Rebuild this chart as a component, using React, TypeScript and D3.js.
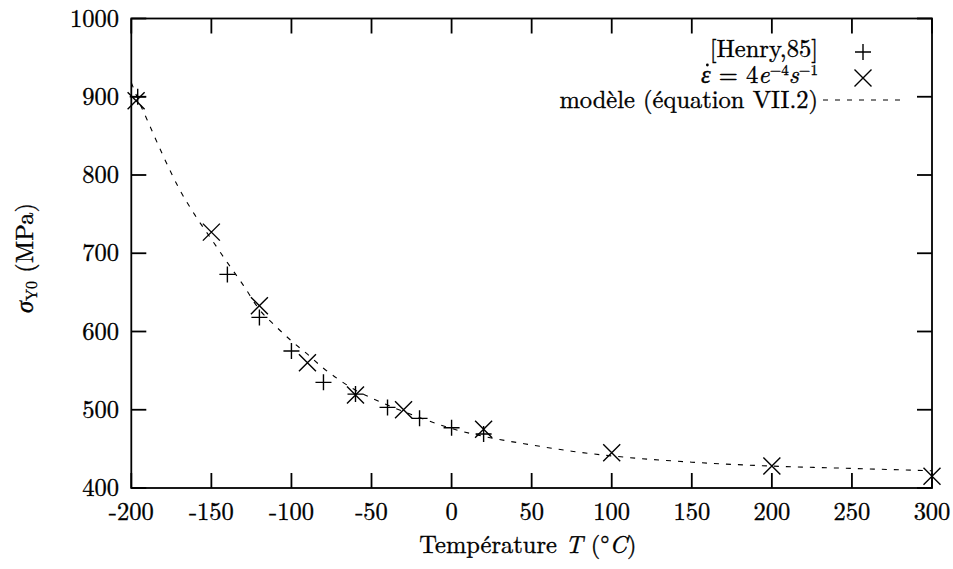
import React, { useLayoutEffect, useRef, useState } from "react";
import * as d3 from "d3";

// Henry,85 data (+)
const henryT = [-196, -140, -120, -100, -80, -60, -40, -20, 0, 20];
const henryS = [900, 673, 618, 575, 535, 520, 503, 489, 477, 469];

// strain rate 4e-4 s-1 data (x)
const rateT = [-197, -150, -120, -90, -60, -30, 20, 100, 200, 300];
const rateS = [895, 727, 633, 560, 519, 500, 475, 445, 428, 415];

// model curve (equation VII.2)
const modelT = [-200, -195, -190, -180, -170, -160, -150, -140, -130, -120, -110, -100, -90, -80, -70, -60, -50, -40, -20, 0, 20, 50, 75, 100, 150, 200, 250, 300];
const modelS = [918, 893, 870, 824, 782, 748, 718, 688, 659, 628, 607, 588, 571, 553, 538, 525, 515, 506, 490, 476, 466, 455, 447, 441, 433, 428, 425, 422];

const xTicks = [-200, -150, -100, -50, 0, 50, 100, 150, 200, 250, 300];
const yTicks = [400, 500, 600, 700, 800, 900, 1000];

const W = 953;
const H = 569;
const L = 131.3, R = 932, T = 18.5, B = 488;
const FONT = "'Latin Modern Roman', 'Liberation Serif', serif";
const FS = 24.5;
const TICK = 15;
const txt: React.CSSProperties = { fontFamily: FONT, fontSize: FS, stroke: "#000", strokeWidth: 0.35 };

export default function App() {
  const x = d3.scaleLinear().domain([-200, 300]).range([L, R]);
  const y = d3.scaleLinear().domain([400, 1000]).range([B, T]);

  const epsRef = useRef<SVGTextElement>(null);
  const [dot, setDot] = useState<[number, number] | null>(null);
  useLayoutEffect(() => {
    const el = epsRef.current;
    if (el) {
      try {
        const p = el.getStartPositionOfChar(0);
        const e = el.getEndPositionOfChar(0);
        setDot([(p.x + e.x) / 2 + 1.5, 65]);
      } catch (err) {
        setDot([686, 65]);
      }
    }
  }, []);

  const model = modelT.map((t, i) => [t, modelS[i]] as [number, number]);
  const line = d3
    .line<[number, number]>()
    .x((d) => x(d[0]))
    .y((d) => y(d[1]))
    .curve(d3.curveMonotoneX);

  const plus = (cx: number, cy: number, k: string) => (
    <path key={k} d={`M${cx - 8},${cy}H${cx + 8}M${cx},${cy - 8}V${cy + 8}`} stroke="#000" strokeWidth={1.4} fill="none" />
  );
  const cross = (cx: number, cy: number, k: string) => (
    <path key={k} d={`M${cx - 8.5},${cy - 8.5}L${cx + 8.5},${cy + 8.5}M${cx - 8.5},${cy + 8.5}L${cx + 8.5},${cy - 8.5}`} stroke="#000" strokeWidth={1.4} fill="none" />
  );

  return (
    <div style={{ position: "absolute", left: 0, top: 0 }}>
      <svg width={W} height={H} viewBox={`0 0 ${W} ${H}`} style={{ display: "block", background: "#fff" }}>
        <rect x={0} y={0} width={W} height={H} fill="#fff" />
        {/* ticks */}
        {xTicks.map((t) => (
          <g key={"xt" + t}>
            <line x1={x(t)} x2={x(t)} y1={B} y2={B - TICK} stroke="#000" strokeWidth={1.8} />
            <line x1={x(t)} x2={x(t)} y1={T} y2={T + TICK} stroke="#000" strokeWidth={1.8} />
            <text x={x(t)} y={520} textAnchor="middle" style={txt}>{t}</text>
          </g>
        ))}
        {yTicks.map((v) => (
          <g key={"yt" + v}>
            <line x1={L} x2={L + TICK} y1={y(v)} y2={y(v)} stroke="#000" strokeWidth={1.8} />
            <line x1={R} x2={R - TICK} y1={y(v)} y2={y(v)} stroke="#000" strokeWidth={1.8} />
            <text x={119} y={y(v) + 8} textAnchor="end" style={txt}>{v}</text>
          </g>
        ))}
        {/* frame */}
        <rect x={L} y={T} width={R - L} height={B - T} fill="none" stroke="#000" strokeWidth={1.8} />

        {/* model curve */}
        <path d={line(model) || ""} fill="none" stroke="#000" strokeWidth={1.1} strokeDasharray="5 7" />

        {/* data */}
        {henryT.map((t, i) => plus(x(t), y(henryS[i]), "h" + i))}
        {rateT.map((t, i) => cross(x(t), y(rateS[i]), "r" + i))}

        {/* legend */}
        <text x={818} y={57} textAnchor="end" style={txt}>[Henry,85]</text>
        {plus(863, 52, "lh")}
        <text ref={epsRef} x={818} y={83} textAnchor="end" style={txt}>
          <tspan fontStyle="italic">{"\u03B5"}</tspan>
          <tspan>{" = 4"}</tspan>
          <tspan fontStyle="italic">e</tspan>
          <tspan style={{ fontSize: 15 }} dy={-8}>{"\u22124"}</tspan>
          <tspan fontStyle="italic" dy={8}>s</tspan>
          <tspan style={{ fontSize: 15 }} dy={-8}>{"\u22121"}</tspan>
        </text>
        {dot && <circle cx={dot[0]} cy={dot[1]} r={1.4} fill="#000" />}
        {cross(863, 78, "lr")}
        <text x={818} y={108} textAnchor="end" style={txt}>modèle (équation VII.2)</text>
        <line x1={823} x2={903} y1={100} y2={100} stroke="#000" strokeWidth={1.1} strokeDasharray="5 7" />

        {/* axis labels */}
        <text x={528} y={553} textAnchor="middle" style={txt}>
          <tspan>Température </tspan>
          <tspan fontStyle="italic">T</tspan>
          <tspan> (°</tspan>
          <tspan fontStyle="italic">C</tspan>
          <tspan>)</tspan>
        </text>
        <text transform="translate(33,258) rotate(-90)" textAnchor="middle" style={txt}>
          <tspan fontStyle="italic">σ</tspan>
          <tspan style={{ fontSize: 16 }} dy={4}>Y0</tspan>
          <tspan dy={-4}> (MPa)</tspan>
        </text>
      </svg>
    </div>
  );
}
